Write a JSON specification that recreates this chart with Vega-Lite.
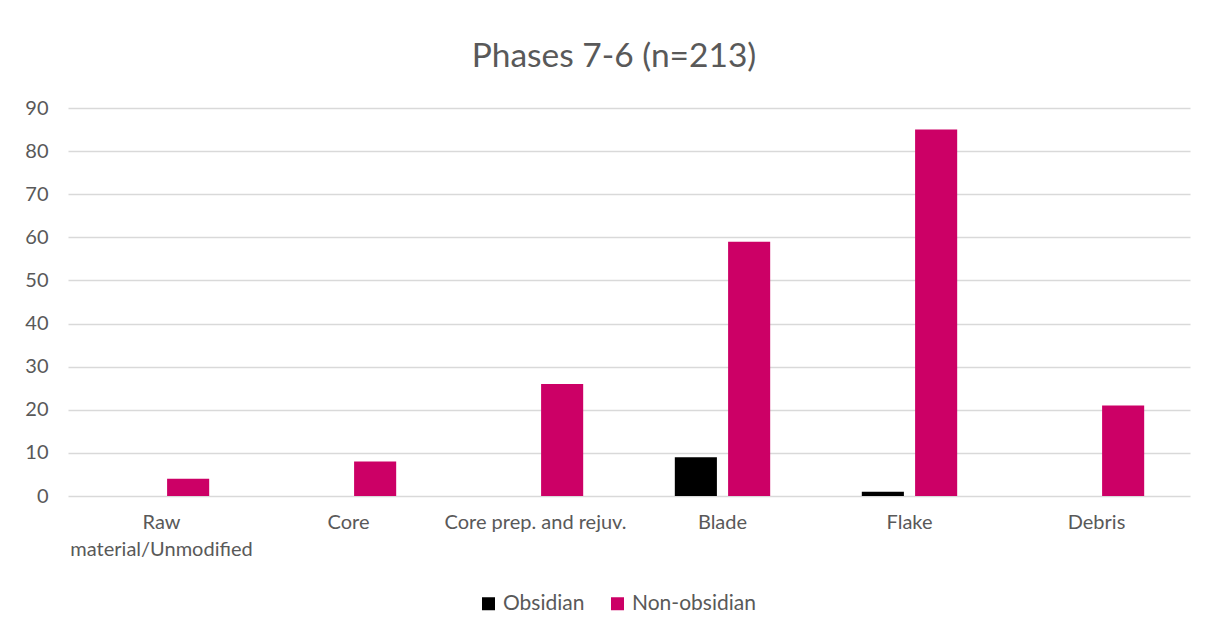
{
  "$schema": "https://vega.github.io/schema/vega-lite/v6.json",
  "width": 1122,
  "height": 388,
  "autosize": {"type": "none"},
  "padding": {"left": 68, "top": 108, "right": 25, "bottom": 135},
  "background": "white",
  "title": {
    "text": "Phases 7-6 (n=213)",
    "fontSize": 33.5,
    "font": "Lato",
    "fontWeight": "normal",
    "color": "#595959",
    "anchor": "middle",
    "dx": -15,
    "offset": 24
  },
  "data": {
    "values": [
      {"category": "Raw material/Unmodified", "material": "Obsidian", "count": 0},
      {"category": "Raw material/Unmodified", "material": "Non-obsidian", "count": 4},
      {"category": "Core", "material": "Obsidian", "count": 0},
      {"category": "Core", "material": "Non-obsidian", "count": 8},
      {"category": "Core prep. and rejuv.", "material": "Obsidian", "count": 0},
      {"category": "Core prep. and rejuv.", "material": "Non-obsidian", "count": 26},
      {"category": "Blade", "material": "Obsidian", "count": 9},
      {"category": "Blade", "material": "Non-obsidian", "count": 59},
      {"category": "Flake", "material": "Obsidian", "count": 1},
      {"category": "Flake", "material": "Non-obsidian", "count": 85},
      {"category": "Debris", "material": "Obsidian", "count": 0},
      {"category": "Debris", "material": "Non-obsidian", "count": 21}
    ]
  },
  "mark": {"type": "bar"},
  "encoding": {
    "x": {
      "field": "category",
      "type": "nominal",
      "sort": null,
      "title": null,
      "scale": {"paddingInner": 0.49, "paddingOuter": 0.245},
      "axis": {
        "labelAngle": 0,
        "domain": false,
        "ticks": false,
        "labelPadding": 16,
        "labelFontSize": 20,
        "labelFont": "Lato",
        "labelColor": "#595959",
        "labelLineHeight": 27,
        "labelLimit": 400,
        "labelExpr": "datum.label == 'Raw material/Unmodified' ? ['Raw', 'material/Unmodified'] : datum.label"
      }
    },
    "xOffset": {
      "field": "material",
      "type": "nominal",
      "sort": ["Obsidian", "Non-obsidian"],
      "scale": {"paddingInner": 0.21, "paddingOuter": 0}
    },
    "y": {
      "field": "count",
      "type": "quantitative",
      "title": null,
      "scale": {"domain": [0, 90], "nice": false},
      "axis": {
        "values": [0, 10, 20, 30, 40, 50, 60, 70, 80, 90],
        "domain": false,
        "ticks": false,
        "labelPadding": 20,
        "labelFontSize": 20,
        "labelFont": "Lato",
        "labelColor": "#595959",
        "gridColor": "#d9d9d9",
        "gridWidth": 1.3
      }
    },
    "color": {
      "field": "material",
      "type": "nominal",
      "sort": ["Obsidian", "Non-obsidian"],
      "scale": {"domain": ["Obsidian", "Non-obsidian"], "range": ["#000000", "#CC0066"]},
      "legend": {
        "title": null,
        "orient": "none",
        "legendX": 410,
        "legendY": 485,
        "direction": "horizontal",
        "symbolType": "square",
        "symbolSize": 169,
        "symbolStrokeWidth": 0,
        "labelFontSize": 21,
        "labelFont": "Lato",
        "labelColor": "#595959",
        "labelOffset": 4,
        "columnPadding": 22
      }
    }
  },
  "config": {
    "view": {"stroke": null}
  }
}
